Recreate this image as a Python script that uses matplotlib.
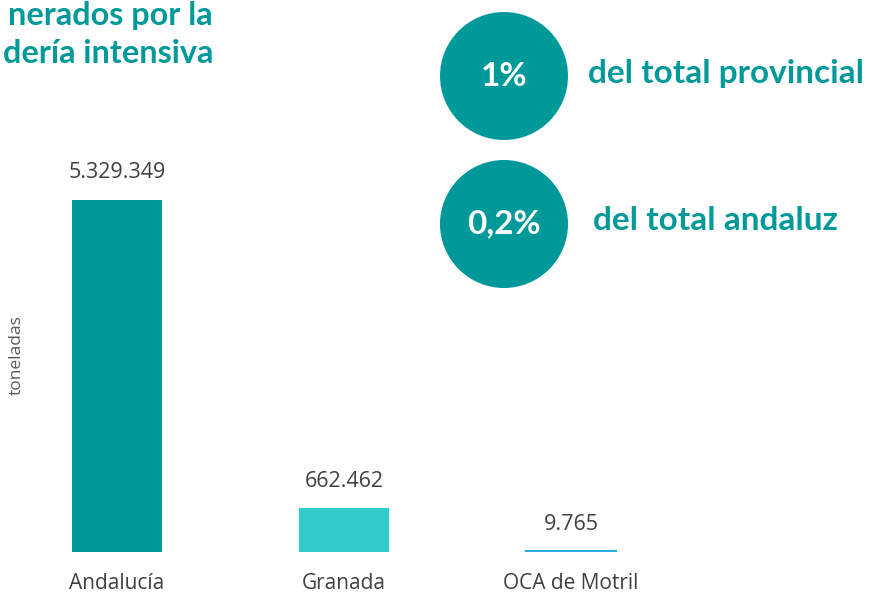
import matplotlib
matplotlib.use("Agg")
import matplotlib.pyplot as plt
from matplotlib.patches import Ellipse

# data
categories = ["Andalucía", "Granada", "OCA de Motril"]
toneladas = [5329349, 662462, 9765]
bar_colors = ["#009999", "#33CCCC", "#29ABE2"]

circle_values = ["1%", "0,2%"]
circle_texts = ["del total provincial", "del total andaluz"]

title_lines = ["nerados por la", "dería intensiva"]

W, H = 875, 594
teal = "#00999A"
bold_font = ["Lato", "DejaVu Sans"]

plt.rcParams["font.family"] = ["Open Sans", "DejaVu Sans"]
fig = plt.figure(figsize=(W / 100, H / 100), dpi=100)

# axes placed so bar centres land at 117, 344, 571 px and baseline at 552 px
ymax = 6.0e6
ax_h = ymax / toneladas[0] * 352
ax = fig.add_axes([3.5 / W, 42 / H, 681 / W, ax_h / H])
ax.set_xlim(-0.5, 2.5)
ax.set_ylim(0, ymax)

bars = ax.bar(range(len(categories)), toneladas, width=0.4, color=bar_colors)
bars[2].set_edgecolor(bar_colors[2])
bars[2].set_linewidth(1.5)

ax.bar_label(bars, labels=[f"{v:,}".replace(",", ".") for v in toneladas],
             padding=12, fontsize=15.5, color="#404040")

ax.set_xticks(range(len(categories)))
ax.set_xticklabels(categories, fontsize=15, color="#404040")
ax.tick_params(axis="x", length=0, pad=15)
ax.set_yticks([])
for s in ax.spines.values():
    s.set_visible(False)

fig.text(17 / W, 1 - 355 / H, "toneladas", rotation=90, ha="center", va="center",
         fontsize=12.5, color="#595959")

# title fragment, top-left (kept inside the canvas)
for txt, yb in zip(title_lines, [25, 63]):
    fig.text(213 / W, 1 - yb / H, txt, ha="right", va="baseline",
             fontsize=23.3, fontweight="bold", color=teal, family=bold_font)

# circles with percentages
centres_y = [76, 224]
text_x = [588, 593]
for val, txt, cy, tx in zip(circle_values, circle_texts, centres_y, text_x):
    fig.add_artist(Ellipse((504 / W, 1 - cy / H), 128 / W, 128 / H,
                           transform=fig.transFigure, color=teal, lw=0))
    fig.text(504 / W, 1 - cy / H, val, ha="center", va="center", fontsize=24,
             fontweight="bold", color="white", family=bold_font)
    fig.text(tx / W, 1 - (cy - 3) / H, txt, ha="left", va="center", fontsize=24,
             fontweight="bold", color=teal, family=bold_font)

fig.savefig("out.png", dpi=100)
